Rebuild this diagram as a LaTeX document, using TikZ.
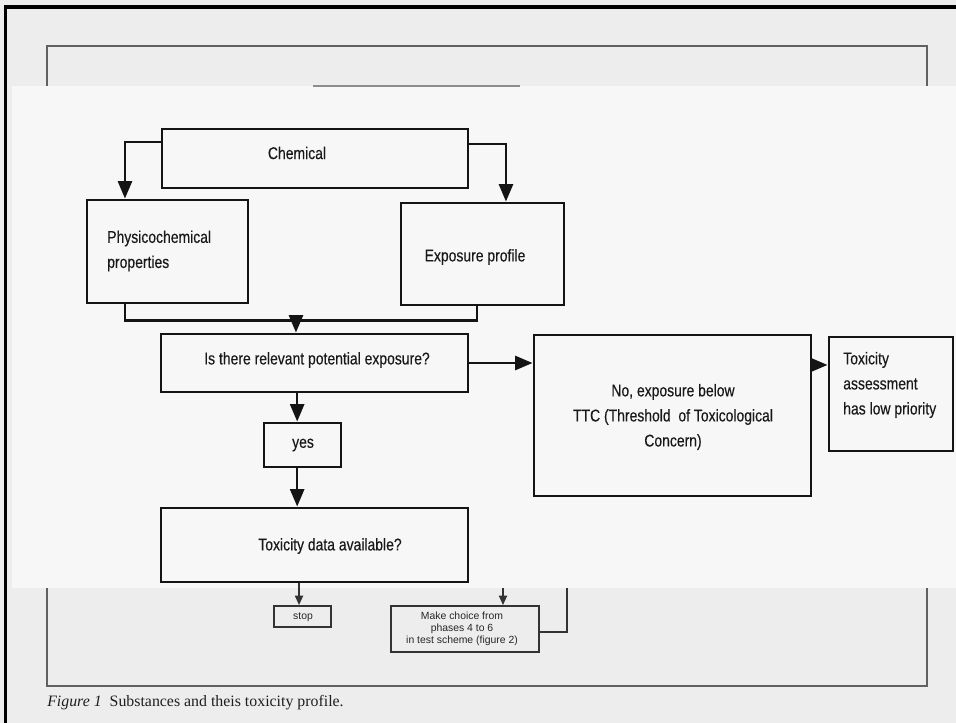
\documentclass[tikz,border=0pt]{standalone}
\usepackage{fontspec}
\setmainfont{Liberation Serif}
\newfontfamily\dfont[FakeStretch=0.82,FakeBold=0.3]{Liberation Sans}
\newfontfamily\smallsf{Liberation Sans}
\usetikzlibrary{arrows.meta,calc}

\tikzset{
  boxwh/.style 2 args={minimum width=#1*0.75pt, minimum height=#2*0.75pt},
  bigbox/.style={draw=black!92, line width=2.2pt, rectangle, inner sep=0pt},
  smallbox/.style={draw=black!80, line width=1.4pt, rectangle, inner sep=0pt},
  lbl/.style={font=\dfont\fontsize{12.75}{18.8}\selectfont, text=black!90, inner sep=0pt},
  slbl/.style={font=\smallsf\fontsize{7.8}{9}\selectfont, text=black!85, inner sep=0pt, align=center},
  conn/.style={draw=black!92, line width=1.8pt},
  arr/.style={conn, -{Triangle[length=13pt,width=10.5pt]}},
  sconn/.style={draw=black!80, line width=1.3pt},
  sarr/.style={sconn, -{Triangle[length=7pt,width=6pt]}},
}

\begin{document}
\begin{tikzpicture}[x=0.75pt,y=-0.75pt]
  % page and its border
  \useasboundingbox (0,0) rectangle (956,723);
  \fill[black!7] (0,0) rectangle (956,723);
  \draw[black, line width=2.4pt] (5.5,723) -- (5.5,7) -- (956,7);

  % printed frame of the figure
  \draw[black!62, line width=1.3pt] (47,46) rectangle (927,686);

  % pasted panel with the chart
  \fill[black!3] (12,86) rectangle (956,588);
  \draw[black!45, line width=0.8pt] (313,86) -- (520,86);

  % boxes
  \node[bigbox, boxwh={306}{59}]  (chem)   at (315,158.5) {};
  \node[bigbox, boxwh={161}{103}] (phys)   at (167.5,251.5) {};
  \node[bigbox, boxwh={163}{102}] (expo)   at (482.5,254) {};
  \node[bigbox, boxwh={307}{58}]  (q1)     at (314.5,363) {};
  \node[bigbox, boxwh={277}{161}] (no)     at (672.5,415.5) {};
  \node[bigbox, boxwh={124}{114}] (low)    at (891,394) {};
  \node[bigbox, boxwh={77}{44}]   (yes)    at (302.5,445) {};
  \node[bigbox, boxwh={307}{74}]  (q2)     at (314.5,545) {};
  \node[smallbox, boxwh={57}{21}] (stop)   at (302.5,616.5) {};
  \node[smallbox, boxwh={148}{46}] (choice) at (465,629) {};

  % texts
  \node[lbl] (tchem) at (297,153) {Chemical};
  \node[lbl, anchor=west, align=left] (tphys) at (107,251) {Physicochemical\\properties};
  \node[lbl] (texpo) at (475,257) {Exposure profile};
  \node[lbl] (tq1) at (317,360) {Is there relevant potential exposure?};
  \node[lbl, align=center] (tno) at (673,417) {No, exposure below\\TTC (Threshold\ \ of Toxicological\\Concern)};
  \node[lbl, anchor=west, align=left] (tlow) at (843,385) {Toxicity\\assessment\\has low priority};
  \node[lbl] (tyes) at (303,445) {yes};
  \node[lbl] (tq2) at (330,546) {Toxicity data available?};
  \node[slbl] (tstop) at (303,617) {stop};
  \node[slbl] (tchoice) at (462,629) {Make choice from\\phases 4 to 6\\in test scheme (figure 2)};

  % chemical splits into the two profiles
  \draw[arr] ([yshift=12.4pt]chem.west) -| ([xshift=-31.9pt]phys.north);
  \draw[arr] ([yshift=10.9pt]chem.east) -| ([xshift=17.6pt]expo.north);

  % both profiles join and lead to the exposure question
  \coordinate (jl) at ([xshift=-31.9pt,yshift=-12pt]phys.south);
  \coordinate (jr) at ([xshift=-4.1pt]expo.south);
  \draw[conn] ([xshift=-31.9pt]phys.south) -- (jl) -| (jr);
  \coordinate (q1in) at ([xshift=-13.9pt]q1.north);
  \draw[arr] (q1in |- jl) -- (q1in);

  % no branch
  \draw[arr] (q1.east) -- (q1.east -| no.west);
  \coordinate (nl) at ([yshift=37.9pt]no.east);
  \draw[arr] (nl) -- (nl -| low.west);

  % yes branch
  \coordinate (ya) at ([xshift=-4pt]yes.north);
  \draw[arr] (ya |- q1.south) -- (ya);
  \draw[arr] (ya |- yes.south) -- (ya |- q2.north);

  % lower part of the scheme
  \coordinate (sa) at ([xshift=-2.6pt]stop.north);
  \draw[sarr] (sa |- q2.south) -- (sa);
  \coordinate (cin) at (503,588);
  \draw[sarr] (cin) -- (cin |- choice.north);
  \coordinate (cout) at (567,588);
  \draw[sconn] ([yshift=-2.3pt]choice.east) -| (cout);

  % caption
  \node[anchor=base west, inner sep=0pt, font=\fontsize{11.9}{14}\selectfont, text=black!88] (cap) at (47,706)
    {\textit{Figure 1}\ \ Substances and theis toxicity profile.};
\end{tikzpicture}
\end{document}
